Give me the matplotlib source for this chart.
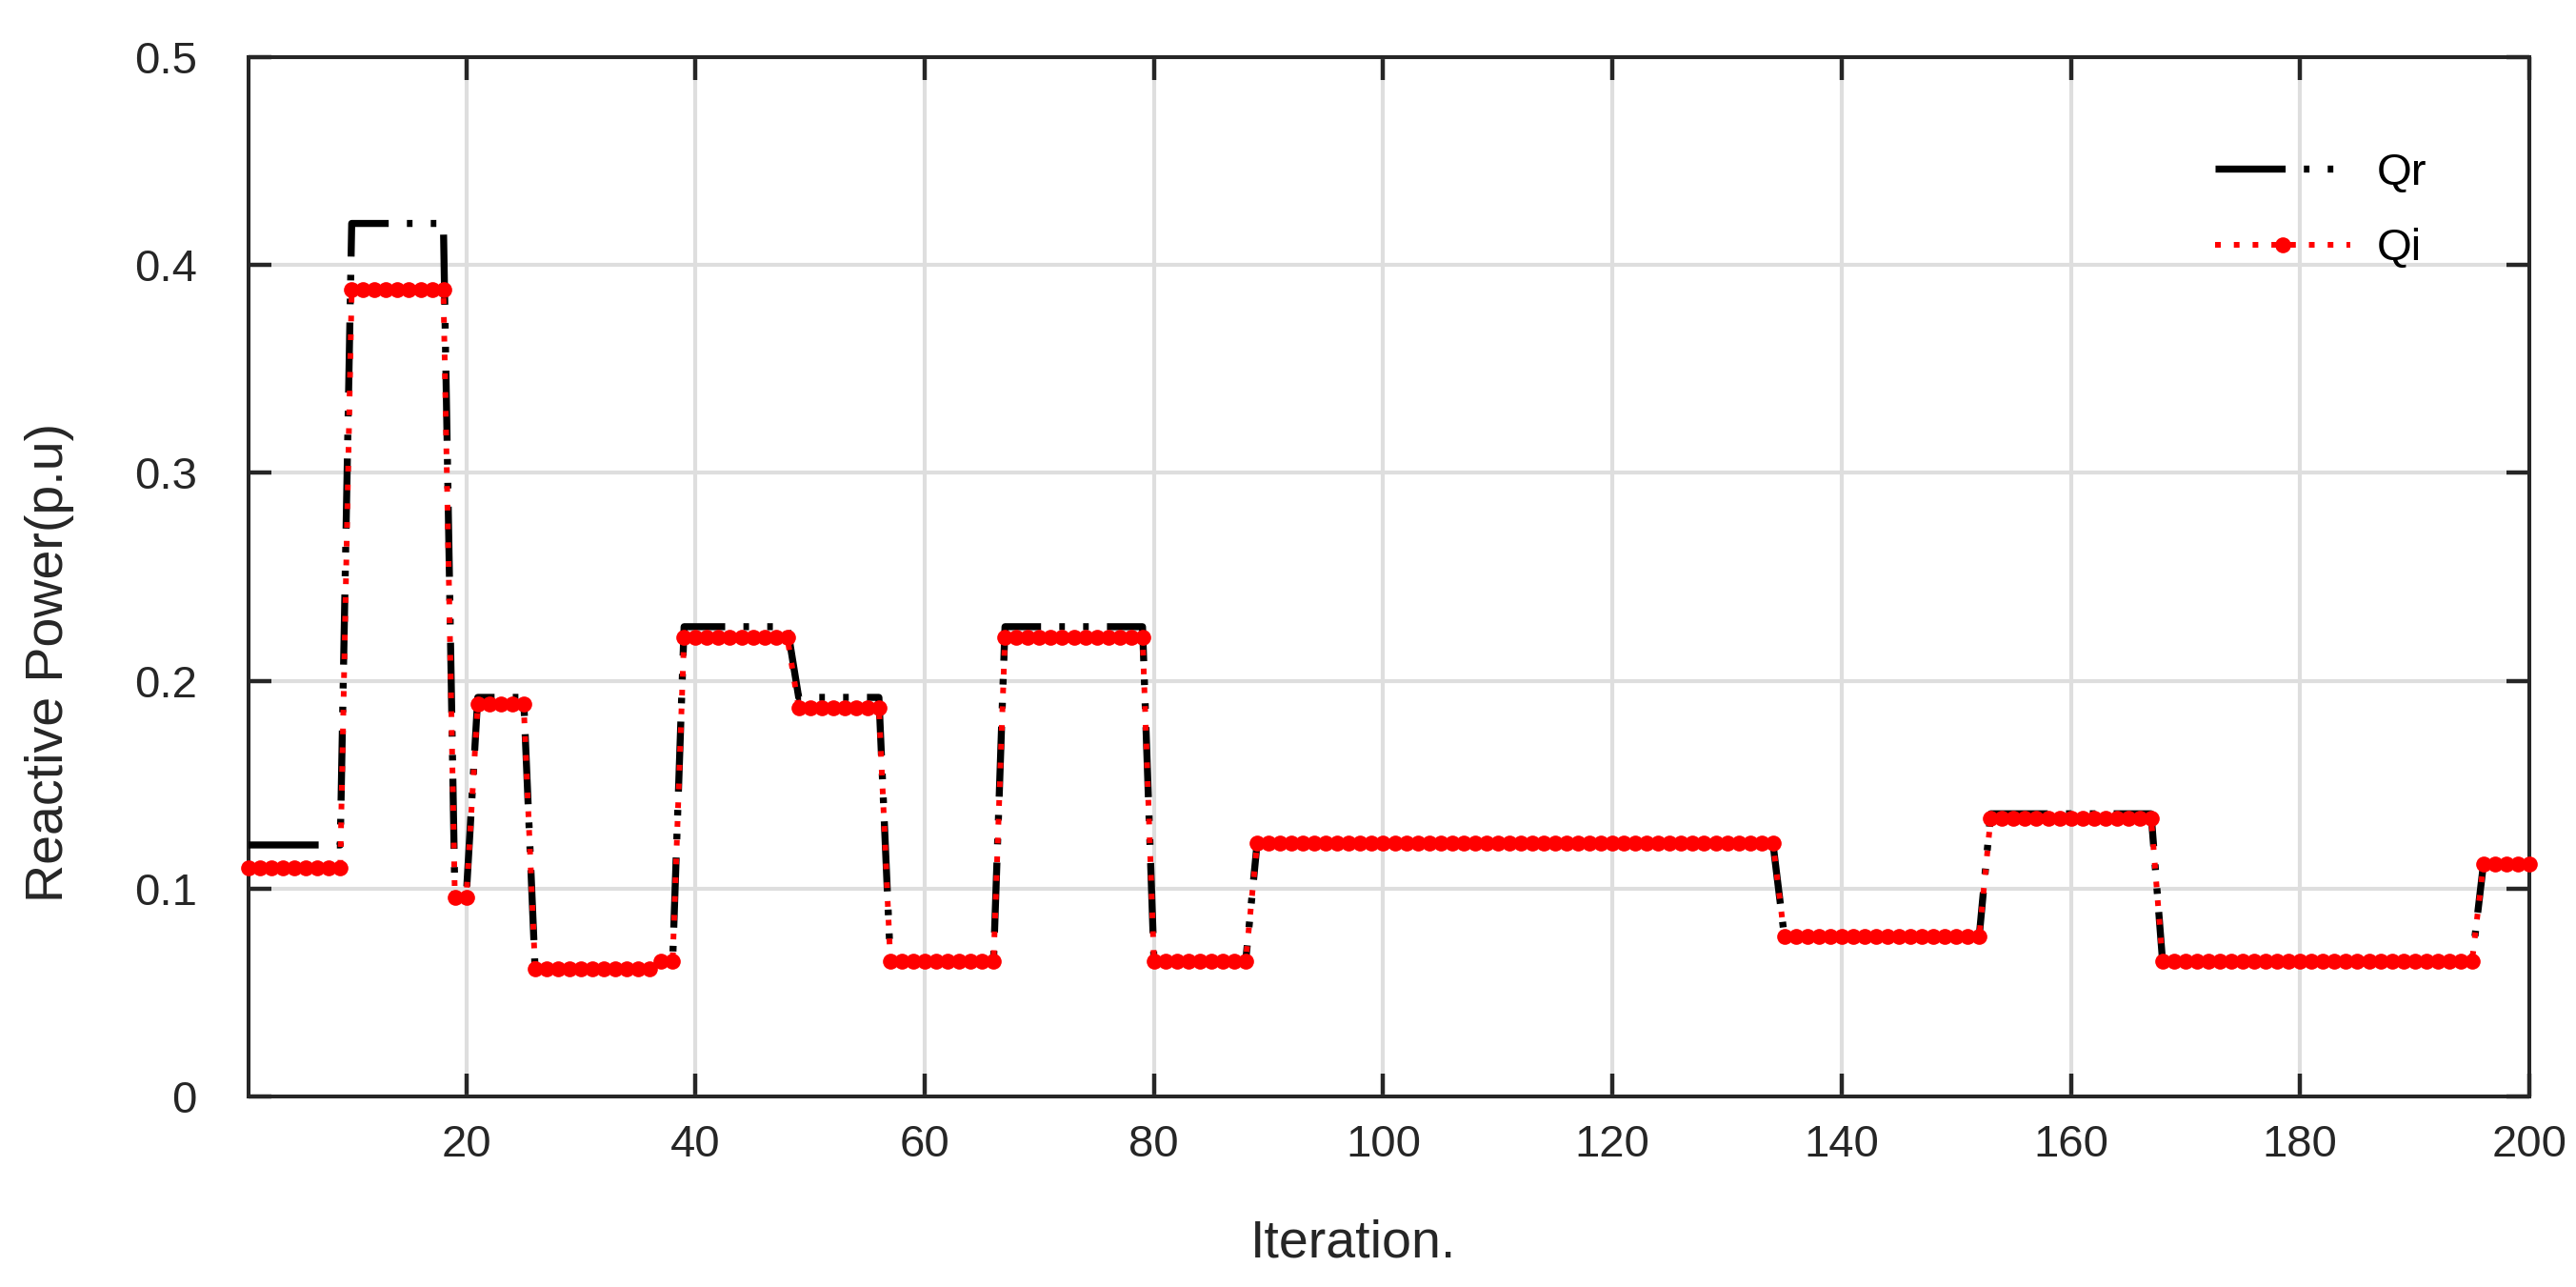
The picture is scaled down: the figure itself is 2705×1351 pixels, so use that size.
import numpy as np
import matplotlib
matplotlib.use("Agg")
import matplotlib.pyplot as plt

plt.rcParams['font.family'] = ['Liberation Sans', 'DejaVu Sans']

# run lengths (iterations per constant level)
run_lengths = [9, 9, 2, 5, 11, 2, 10, 8, 10, 13, 9, 46, 18, 15, 28, 5]
qr_levels = [0.121, 0.420, 0.097, 0.192, 0.0615, 0.065, 0.226, 0.192,
             0.065, 0.226, 0.065, 0.122, 0.077, 0.136, 0.065, 0.112]
qi_levels = [0.110, 0.388, 0.096, 0.189, 0.0615, 0.065, 0.221, 0.187,
             0.065, 0.221, 0.065, 0.122, 0.077, 0.134, 0.065, 0.112]

iterations = np.arange(1, sum(run_lengths) + 1)
qr = np.repeat(qr_levels, run_lengths)
qi = np.repeat(qi_levels, run_lengths)

x_ticks = [20, 40, 60, 80, 100, 120, 140, 160, 180, 200]
y_ticks = [0, 0.1, 0.2, 0.3, 0.4, 0.5]
y_ticklabels = ['0', '0.1', '0.2', '0.3', '0.4', '0.5']

W, H = 2705, 1351
fig = plt.figure(figsize=(W / 100, H / 100), dpi=100)
L, R, T, B = 261, 2656, 60, 1151
ax = fig.add_axes([L / W, 1 - B / H, (R - L) / W, (B - T) / H])

txt = '#262626'
ax.plot(iterations, qr, color='black', lw=5.3,
        linestyle=(0, (10, 2.6, 0.8, 2.6, 0.8, 2.6)),
        label='Qr', zorder=3)
ax.plot(iterations, qi, color='red', lw=4.3, linestyle=(0, (1, 2.3)),
        marker='o', markersize=12, markeredgewidth=0, label='Qi',
        zorder=4, clip_on=False)

ax.set_xlim(1, 200)
ax.set_ylim(0, 0.5)
ax.set_xticks(x_ticks)
ax.set_xticklabels([str(v) for v in x_ticks])
ax.set_yticks(y_ticks)
ax.set_yticklabels(y_ticklabels)

ax.grid(True, color='#dedede', lw=3.0, zorder=0)
ax.set_axisbelow(True)
for s in ax.spines.values():
    s.set_linewidth(2.9)
    s.set_color(txt)
ax.tick_params(axis='both', which='both', direction='in', length=17.5, width=3.2,
               color=txt, labelcolor=txt, labelsize=34,
               top=True, right=True)
ax.tick_params(axis='y', pad=39)
ax.tick_params(axis='x', pad=21)

fig.text(1421 / W, 1 - 1319 / H, 'Iteration.', ha='center', va='baseline',
         fontsize=40, color=txt)
fig.text(52 / W, 1 - 695 / H, 'Reactive Power(p.u)', ha='center', va='center',
         rotation=90, fontsize=40, color=txt)

leg = ax.legend(loc='upper right', bbox_to_anchor=(0.965, 0.93), frameon=False,
                fontsize=34, handlelength=3.0, handletextpad=0.6,
                labelspacing=0.75, borderpad=0)
for t in leg.get_texts():
    t.set_color('black')

fig.savefig('out.png', dpi=100, facecolor='white')
